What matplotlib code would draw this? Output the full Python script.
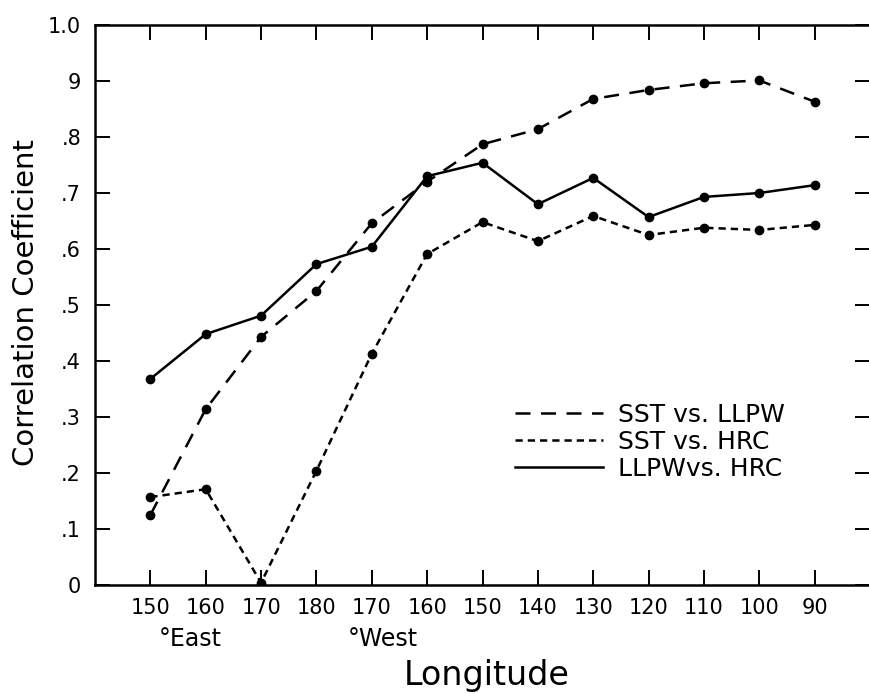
import matplotlib
matplotlib.use("Agg")
import matplotlib.pyplot as plt
from matplotlib.lines import Line2D

plt.rcParams['font.family'] = ['DejaVu Sans']

# ---- data ----
lon_labels = ["150", "160", "170", "180", "170", "160", "150",
              "140", "130", "120", "110", "100", "90"]
sst_llpw = [0.125, 0.314, 0.443, 0.525, 0.646, 0.720, 0.787,
            0.814, 0.868, 0.884, 0.896, 0.901, 0.863]
sst_hrc = [0.157, 0.171, 0.004, 0.204, 0.413, 0.591, 0.648,
           0.614, 0.659, 0.625, 0.638, 0.634, 0.643]
llpw_hrc = [0.368, 0.448, 0.481, 0.573, 0.604, 0.730, 0.754,
            0.680, 0.727, 0.657, 0.693, 0.700, 0.714]
y_ticks = [0.0, 0.1, 0.2, 0.3, 0.4, 0.5, 0.6, 0.7, 0.8, 0.9, 1.0]
y_ticklabels = ["0", ".1", ".2", ".3", ".4", ".5", ".6", ".7", ".8", "9", "1.0"]
series_names = ["SST vs. LLPW", "SST vs. HRC", "LLPWvs. HRC"]

x = list(range(len(lon_labels)))

fig = plt.figure(figsize=(8.69, 6.93), dpi=100)
W, H = 869, 693
ax = fig.add_axes([95 / W, (H - 585) / H, (870 - 95) / W, 560 / H])

lw = 1.8
styles = [
    dict(color='k', lw=lw, dashes=(6, 4.2)),
    dict(color='k', lw=lw, dashes=(2.9, 2.0)),
    dict(color='k', lw=lw, ls='-'),
]
for ys, st in zip([sst_llpw, sst_hrc, llpw_hrc], styles):
    ax.plot(x, ys, **st)
    ax.plot(x, ys, 'o', color='k', ms=6, ls='none')

ax.set_xlim(-1, 13)
ax.set_ylim(0, 1.0)
ax.set_xticks(x)
ax.set_xticklabels(lon_labels)
ax.set_yticks(y_ticks)
ax.set_yticklabels(y_ticklabels)

ax.tick_params(axis='both', direction='in', length=11, width=1.4,
               top=True, right=True, labeltop=False, labelright=False)
ax.tick_params(axis='x', labelsize=15, pad=9)
ax.tick_params(axis='y', labelsize=15, pad=10)
for s in ax.spines.values():
    s.set_linewidth(1.8)
ax.spines['right'].set_visible(False)

ax.set_ylabel("Correlation Coefficient", fontsize=21)
ax.yaxis.set_label_coords(-0.071, 0.505)
ax.set_xlabel("Longitude", fontsize=24)
ax.xaxis.set_label_coords(0.506, -0.132)

ax.text(0.1226, -0.0964, "°East", transform=ax.transAxes, fontsize=17,
        ha='center', va='center')
ax.text(0.3716, -0.0964, "°West", transform=ax.transAxes, fontsize=17,
        ha='center', va='center')

handles = [Line2D([], [], **st) for st in styles]
ax.legend(handles, series_names, loc='upper left',
          bbox_to_anchor=(0.542, 0.325), frameon=False, fontsize=18,
          handlelength=3.5, handletextpad=0.6, labelspacing=0.12,
          borderpad=0, borderaxespad=0)

fig.savefig("out.png", dpi=100)
